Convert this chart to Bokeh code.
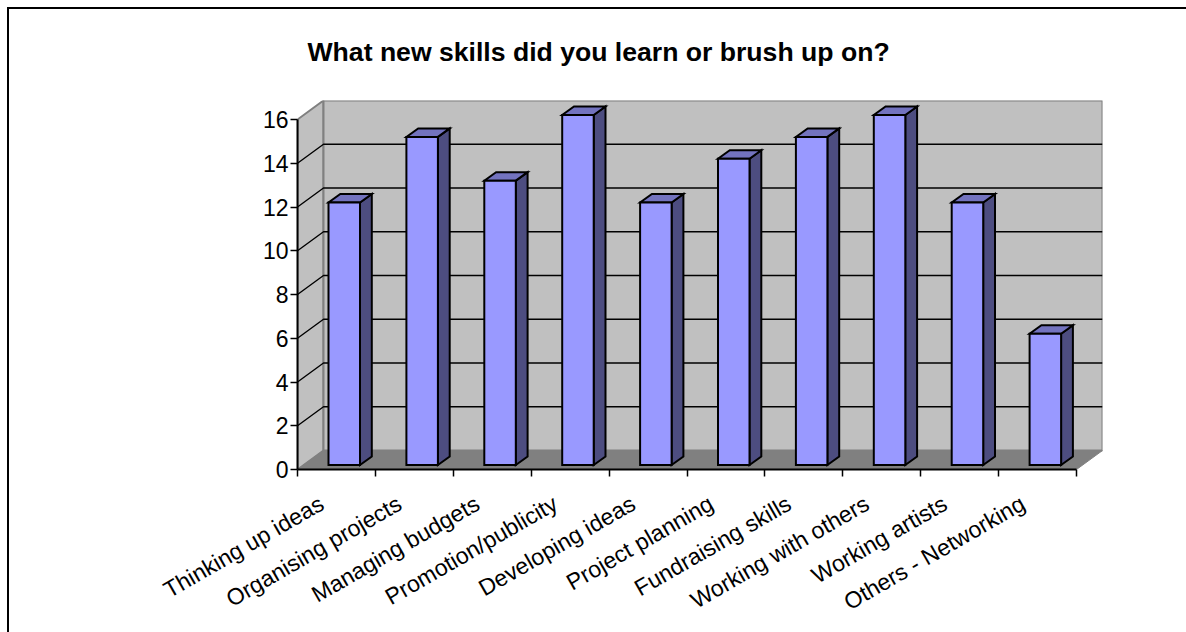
from bokeh.embed import file_html
from bokeh.resources import INLINE
from bokeh.plotting import figure
from bokeh.models import FixedTicker, InlineStyleSheet, Range1d
import math

categories = ["Thinking up ideas", "Organising projects", "Managing budgets", "Promotion/publicity",
              "Developing ideas", "Project planning", "Fundraising skills", "Working with others",
              "Working artists", "Others - Networking"]
values = [12, 15, 13, 16, 12, 14, 15, 16, 12, 6]
y_ticks = [0, 2, 4, 6, 8, 10, 12, 14, 16]
title_text = "What new skills did you learn or brush up on?"

W, H = 1186, 632
FL, FT, FR, FB = 297, 100, 1102, 469
px_x = 77.9
px_y = 21.875
n = len(categories)
ymax = y_ticks[-1]
wall_dx, wall_dy = 26 / px_x, 19 / px_y
bar_dx, bar_dy = 11.8 / px_x, 8.5 / px_y
bar_off, bar_w, bar_base = 31 / px_x, 31.5 / px_x, 4.5 / px_y

p = figure(width=W, height=H, output_backend="svg", toolbar_location=None,
           x_range=Range1d(0, (FR - FL) / px_x), y_range=Range1d(0, (FB - FT) / px_y),
           min_border_left=FL, min_border_right=W - FR, min_border_top=FT, min_border_bottom=H - FB,
           background_fill_color="white", border_fill_color="white", outline_line_color=None)
p.xgrid.visible = False
p.ygrid.visible = False

# title
p.title.text = title_text
p.title.text_font = "Liberation Sans"
p.title.text_font_style = "bold"
p.title.text_font_size = "26.6px"
p.title.text_color = "black"
p.title.align = "left"
p.title.offset = 10
p.title.standoff = 67

# walls and floor
p.patch([0, wall_dx, wall_dx, 0], [0, wall_dy, ymax + wall_dy, ymax],
        fill_color="#C0C0C0", line_color="#808080", line_width=2)
p.patch([wall_dx, n + wall_dx, n + wall_dx, wall_dx], [wall_dy, wall_dy, ymax + wall_dy, ymax + wall_dy],
        fill_color="#C0C0C0", line_color="#808080", line_width=2)
p.patch([0, n, n + wall_dx, wall_dx], [0, 0, wall_dy, wall_dy],
        fill_color="#808080", line_color="#808080", line_width=1)

# gridlines
for v in y_ticks[1:-1]:
    p.line([0, wall_dx, n + wall_dx], [v, v + wall_dy, v + wall_dy], line_color="black", line_width=1.4)

# bars
lefts = [i + bar_off for i in range(n)]
rights = [l + bar_w for l in lefts]
tops = [v + bar_base for v in values]
bases = [bar_base] * n
p.patches([[r, r + bar_dx, r + bar_dx, r] for r in rights],
          [[b, b + bar_dy, t + bar_dy, t] for b, t in zip(bases, tops)],
          fill_color="#4D4D80", line_color="black", line_width=2, line_join="miter")
p.patches([[l, r, r + bar_dx, l + bar_dx] for l, r in zip(lefts, rights)],
          [[t, t, t + bar_dy, t + bar_dy] for t in tops],
          fill_color="#7373BF", line_color="black", line_width=2, line_join="miter")
p.quad(left=lefts, right=rights, bottom=bases, top=tops,
       fill_color="#9999FF", line_color="black", line_width=2, line_join="miter")

# axes
ya = p.yaxis[0]
ya.ticker = FixedTicker(ticks=y_ticks)
ya.bounds = (0, ymax)
ya.axis_line_color = "black"
ya.axis_line_width = 2
ya.major_tick_line_color = "black"
ya.major_tick_line_width = 1.5
ya.major_tick_in = 0
ya.major_tick_out = 7
ya.minor_tick_line_color = None
ya.major_label_text_font = "Liberation Sans"
ya.major_label_text_font_size = "23px"
ya.major_label_text_color = "black"
ya.major_label_standoff = 2

xa = p.xaxis[0]
label_pos = [i + 0.31 for i in range(n)]
xa.ticker = FixedTicker(ticks=label_pos, minor_ticks=list(range(n + 1)))
xa.bounds = (0, n)
xa.axis_line_color = "black"
xa.axis_line_width = 2
xa.major_tick_line_color = None
xa.major_tick_in = 0
xa.major_tick_out = 0
xa.minor_tick_line_color = "black"
xa.minor_tick_line_width = 1.5
xa.minor_tick_in = 0
xa.minor_tick_out = 7
xa.major_label_overrides = {pos: c for pos, c in zip(label_pos, categories)}
xa.major_label_orientation = math.radians(30)
xa.major_label_text_font = "Liberation Sans"
xa.major_label_text_font_size = "23px"
xa.major_label_text_color = "black"
xa.major_label_standoff = 25

# chart-area border (only the top and left edges are in the picture)
p.stylesheets = [InlineStyleSheet(css=""":host::after {
  content: ""; position: absolute; left: 7px; top: 7px; right: 0; bottom: 0;
  border-left: 2px solid black; border-top: 2px solid black; pointer-events: none;
}""")]

open("out.html", "w").write(file_html(p, INLINE))
